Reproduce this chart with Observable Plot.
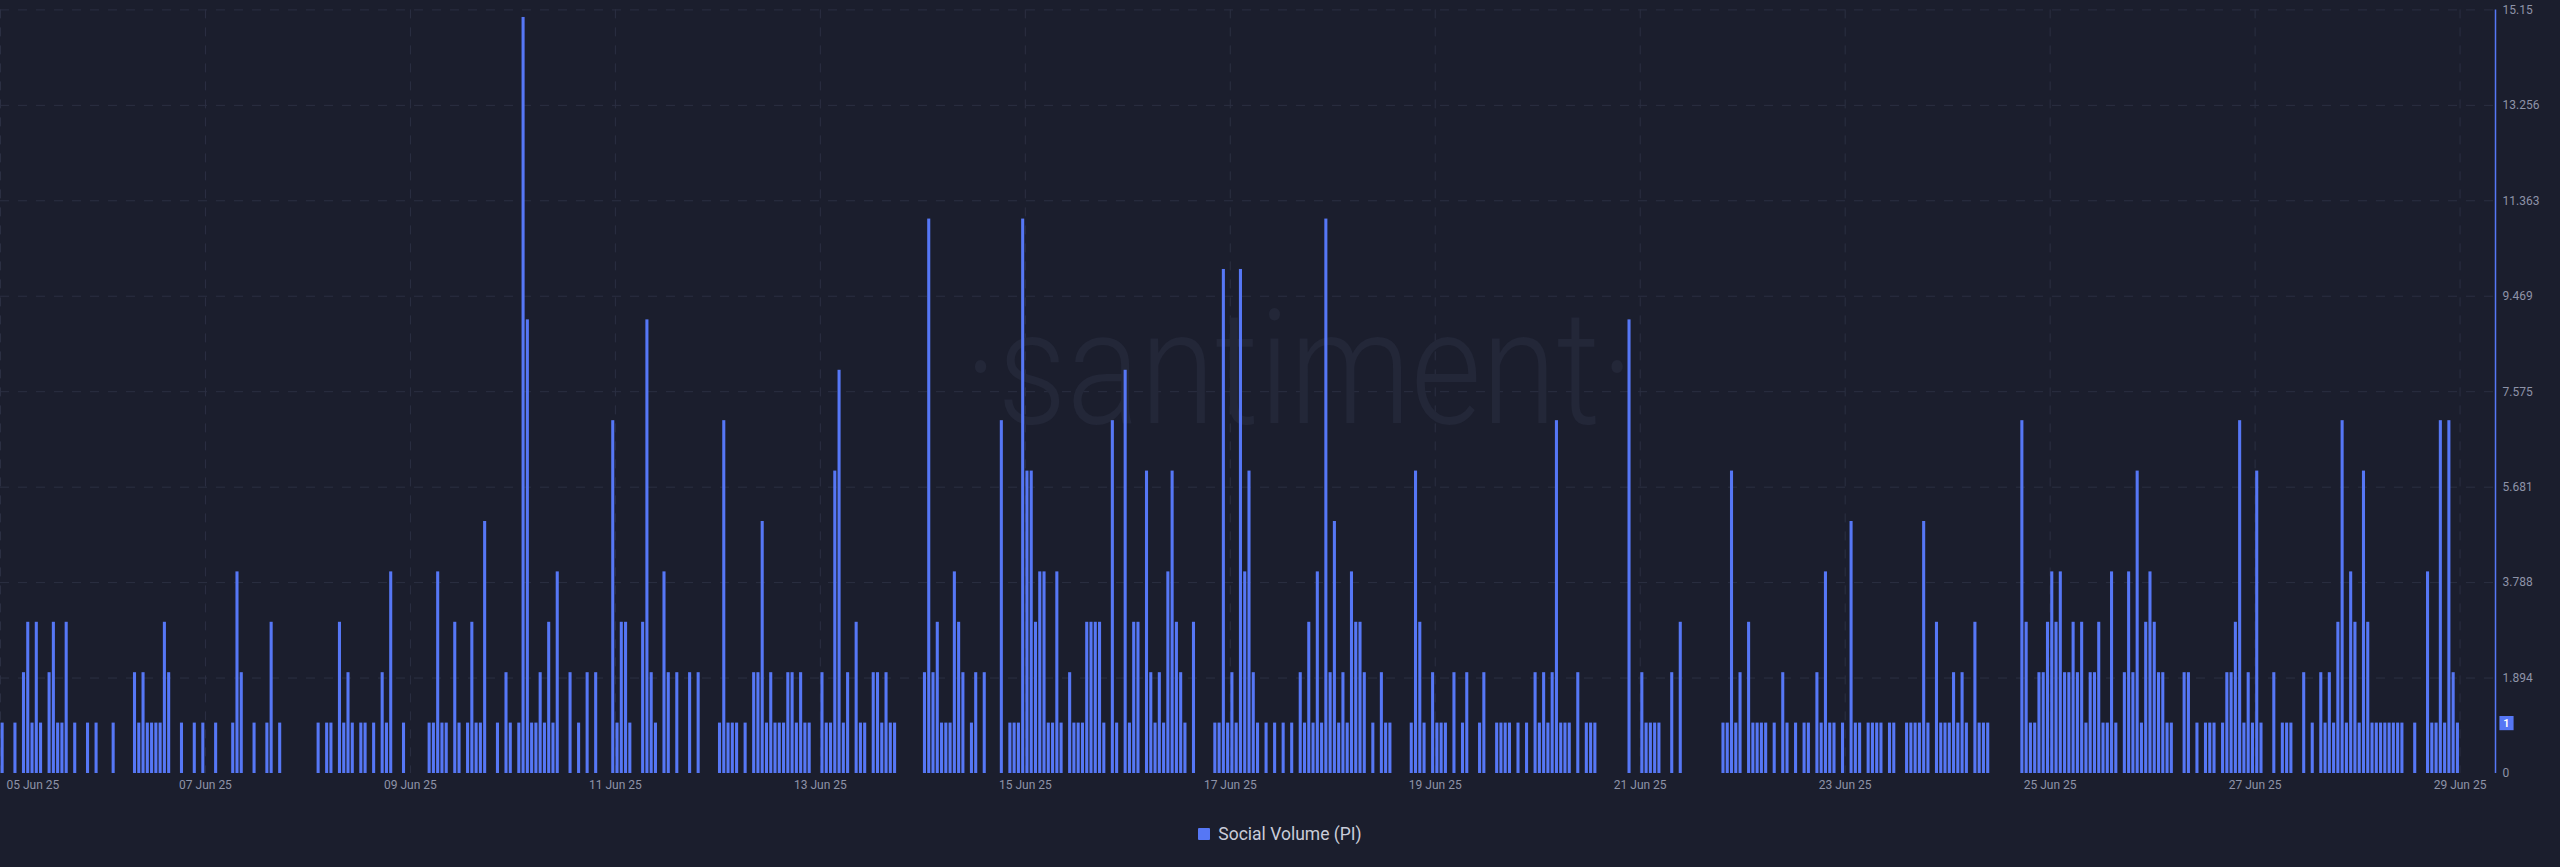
<!DOCTYPE html>
<html>
<head>
<meta charset="utf-8">
<script src="https://cdn.jsdelivr.net/npm/d3@7"></script>
<script src="https://cdn.jsdelivr.net/npm/@observablehq/plot@0.6"></script>
<style>
  html, body { margin: 0; padding: 0; background: #1b1e2d; }
  body { width: 2560px; height: 867px; overflow: hidden; position: relative; font-family: Roboto, "Open Sans", sans-serif; }
  #chart { position: absolute; left: 0; top: 0; }
  #legend { position: absolute; left: 0; top: 824px; width: 2560px; display: flex; justify-content: center; align-items: center; gap: 8px; color: #c9ccd9; font-size: 17.5px; }
  #legend .sw { width: 12px; height: 12px; background: #5677f5; border-radius: 1px; }
</style>
</head>
<body>
<div id="chart"></div>
<div id="legend"><span class="sw"></span><span>Social Volume (PI)</span></div>
<script>
// Hourly social volume, first value = 05 Jun 2025 00:00 UTC, one line per day
const seriesName = "Social Volume (PI)";
const firstHour = "2025-06-05T00:00:00Z";
const socialVolume = [
  1,0,0,1,0,2,3,1,3,1,0,2,3,1,1,3,0,1,0,0,1,0,1,0,   // 05 Jun
  0,0,1,0,0,0,0,2,1,2,1,1,1,1,3,2,0,0,1,0,0,1,0,1,   // 06 Jun
  0,0,1,0,0,0,1,4,2,0,0,1,0,0,1,3,0,1,0,0,0,0,0,0,   // 07 Jun
  0,0,1,0,1,1,0,3,1,2,1,0,1,1,0,1,0,2,1,4,0,0,1,0,   // 08 Jun
  0,0,0,0,1,1,4,1,1,0,3,1,0,1,3,1,1,5,0,0,1,0,2,1,   // 09 Jun
  0,1,15,9,1,1,2,1,3,1,4,0,0,2,0,1,0,2,0,2,0,0,0,7,  // 10 Jun
  1,3,3,1,0,0,3,9,2,1,0,4,2,0,2,0,0,2,0,2,0,0,0,0,   // 11 Jun
  1,7,1,1,1,0,1,0,2,2,5,1,2,1,1,1,2,2,1,2,1,1,0,0,   // 12 Jun
  2,1,1,6,8,1,2,0,3,1,1,0,2,2,1,2,1,1,0,0,0,0,0,0,   // 13 Jun
  2,11,2,3,1,1,1,4,3,2,0,1,2,0,2,0,0,0,7,0,1,1,1,11, // 14 Jun
  6,6,3,4,4,1,1,4,1,0,2,1,1,1,3,3,3,3,1,0,7,1,0,8,   // 15 Jun
  1,3,3,0,6,2,1,2,1,4,6,3,2,1,0,3,0,0,0,0,1,1,10,1,  // 16 Jun
  2,1,10,4,6,2,1,0,1,0,1,0,1,0,1,0,2,1,3,1,4,1,11,2, // 17 Jun
  5,1,2,1,4,3,3,2,0,1,0,2,1,1,0,0,0,0,1,6,3,1,0,2,   // 18 Jun
  1,1,1,0,2,0,1,2,0,0,1,2,0,0,1,1,1,1,0,1,0,1,0,2,   // 19 Jun
  1,2,1,2,7,1,1,1,0,2,0,1,1,1,0,0,0,0,0,0,0,9,0,0,   // 20 Jun
  2,1,1,1,1,0,0,2,0,3,0,0,0,0,0,0,0,0,0,1,1,6,1,2,   // 21 Jun
  0,3,1,1,1,1,0,1,0,2,1,0,1,0,1,1,0,2,1,4,1,1,0,1,   // 22 Jun
  0,5,1,1,0,1,1,1,1,0,1,1,0,0,1,1,1,1,5,1,0,3,1,1,   // 23 Jun
  1,2,1,2,1,0,3,1,1,1,0,0,0,0,0,0,0,7,3,1,1,2,2,3,   // 24 Jun
  4,3,4,2,2,3,2,3,1,2,2,3,1,1,4,1,0,2,4,2,6,1,3,4,   // 25 Jun
  3,2,2,1,1,0,0,2,2,0,1,0,1,1,1,0,1,2,2,3,7,1,2,1,   // 26 Jun
  6,1,0,0,2,0,1,1,1,0,0,2,0,1,0,2,1,2,1,3,7,1,4,3,   // 27 Jun
  1,6,3,1,1,1,1,1,1,1,1,0,0,1,0,0,4,1,1,7,1,7,2,1    // 28 Jun
];
const yTickLabels = ["0", "1.894", "3.788", "5.681", "7.575", "9.469", "11.363", "13.256", "15.15"];
const xTickDates = ["2025-06-05","2025-06-07","2025-06-09","2025-06-11","2025-06-13","2025-06-15","2025-06-17","2025-06-19","2025-06-21","2025-06-23","2025-06-25","2025-06-27","2025-06-29"];
const lastValueLabel = "1";

const HOUR = 3600e3;
const t0 = Date.parse(firstHour);
const rows = socialVolume.map((v, i) => ({start: new Date(t0 + i * HOUR), end: new Date(t0 + (i + 1) * HOUR), v}))
  .filter(d => d.v > 0);
const yTicks = yTickLabels.map(Number);
const xTicks = xTickDates.map(d => new Date(d + "T00:00:00Z"));
const xEnd = new Date(t0 + 584.3 * HOUR);
const fmt = d3.utcFormat("%d %b %y");
const barColor = "#5677f5";
const textColor = "#8e93a8";
const gridColor = "#2b2f42";

const chart = Plot.plot({
  width: 2560,
  height: 800,
  marginLeft: 0,
  marginRight: 65,
  marginTop: 9.4,
  marginBottom: 27,
  style: {background: "transparent", color: textColor, fontFamily: "Roboto, 'Open Sans', sans-serif", fontSize: "12px"},
  x: {type: "utc", domain: [new Date(t0), xEnd], axis: null},
  y: {domain: [0, 15.15], axis: null},
  marks: [
    Plot.ruleY(yTicks.slice(1), {stroke: gridColor, strokeDasharray: "9,9", strokeWidth: 1}),
    Plot.ruleX(xTicks, {stroke: gridColor, strokeDasharray: "9,9", strokeWidth: 1}),
    Plot.text(["·santiment·"], {frameAnchor: "middle", dx: 51, dy: -20, fontSize: 160, fontWeight: 300, fill: "#232738", className: "wm"}),
    Plot.rectY(rows, {x1: "start", x2: "end", y: "v", fill: barColor, insetLeft: 0.6, insetRight: 0.6}),
    Plot.ruleX([xEnd], {stroke: barColor, strokeWidth: 1.5}),
    Plot.text(yTicks, {x: xEnd, y: d => d, text: (d, i) => yTickLabels[i], textAnchor: "start", dx: 7, fill: textColor, fontSize: 12}),
    Plot.text(xTicks.slice(0, 1), {x: d => d, y: 0, text: d => fmt(d), textAnchor: "start", dx: 6, dy: 12, fill: textColor, fontSize: 12}),
    Plot.text(xTicks.slice(1), {x: d => d, y: 0, text: d => fmt(d), textAnchor: "middle", dy: 12, fill: textColor, fontSize: 12}),
    Plot.dot([socialVolume[socialVolume.length - 1]], {x: xEnd, y: d => d, symbol: "square", r: 8, fill: barColor, dx: 11}),
    Plot.text([socialVolume[socialVolume.length - 1]], {x: xEnd, y: d => d, text: () => lastValueLabel, fill: "#ffffff", dx: 11, fontSize: 11, fontWeight: 600})
  ]
});
document.getElementById("chart").appendChild(chart);
d3.select(chart).selectAll("g.wm text").attr("textLength", 670).attr("lengthAdjust", "spacingAndGlyphs");
</script>
</body>
</html>
